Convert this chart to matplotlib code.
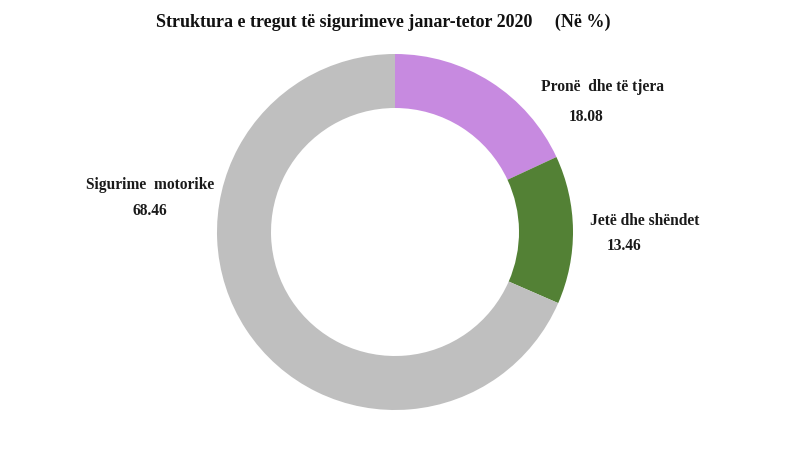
import matplotlib.pyplot as plt

categories = ['Pronë  dhe të tjera', 'Jetë dhe shëndet', 'Sigurime  motorike']
values = [18.08, 13.46, 68.46]
colors = ['#C78AE0', '#538135', '#BFBFBF']

plt.rcParams['font.family'] = ['Liberation Serif', 'DejaVu Serif']

fig = plt.figure(figsize=(8, 4.5), dpi=100)
ax = fig.add_axes([0, 0, 1, 1])

# pie in pixel coords (y flipped), so go counterclockwise to appear clockwise
ax.pie(values, colors=colors, startangle=-90, counterclock=True,
       center=(395, 232), radius=178, frame=True,
       wedgeprops=dict(width=54, linewidth=0))
ax.set_xlim(0, 800)
ax.set_ylim(450, 0)
ax.set_aspect('equal')
ax.axis('off')

ax.text(383, 22, 'Struktura e tregut të sigurimeve janar-tetor 2020     (Në %)',
        ha='center', va='center', fontsize=13, fontweight='bold', color='#111111')

lab = dict(fontsize=11.2, fontweight='bold', color='#1a1a1a', va='center')
ax.text(541, 87, categories[0], ha='left', **lab)
ax.text(569, 117, f'{values[0]:.2f}', ha='left', **lab)
ax.text(590, 221, categories[1], ha='left', **lab)
ax.text(607, 246, f'{values[1]:.2f}', ha='left', **lab)
ax.text(150, 185, categories[2], ha='center', **lab)
ax.text(150, 211, f'{values[2]:.2f}', ha='center', **lab)

fig.savefig('out.png', dpi=100)
